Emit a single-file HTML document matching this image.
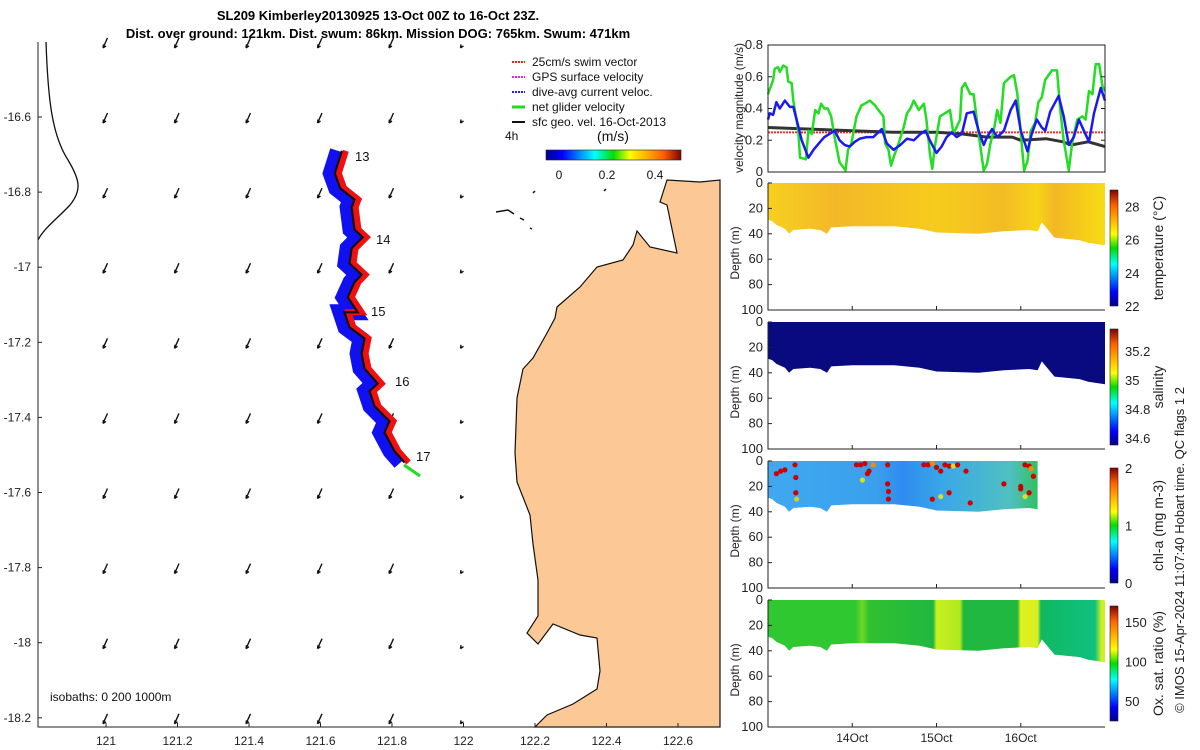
<!DOCTYPE html>
<html><head><meta charset="utf-8">
<style>
body{margin:0;background:#fff;}
svg{display:block;font-family:"Liberation Sans","DejaVu Sans",sans-serif;}
</style></head>
<body>
<svg id="fig" width="1200" height="750" viewBox="0 0 1200 750">
<defs>
<linearGradient id="jetH" x1="0" x2="1" y1="0" y2="0">
<stop offset="0" stop-color="#00008f"/><stop offset="0.12" stop-color="#0000ff"/><stop offset="0.36" stop-color="#00ffff"/><stop offset="0.5" stop-color="#00dd00"/><stop offset="0.62" stop-color="#ffff00"/><stop offset="0.87" stop-color="#ff6000"/><stop offset="1" stop-color="#800000"/>
</linearGradient>
<linearGradient id="jetV" x1="0" x2="0" y1="1" y2="0">
<stop offset="0" stop-color="#00008f"/><stop offset="0.12" stop-color="#0000ff"/><stop offset="0.36" stop-color="#00ffff"/><stop offset="0.5" stop-color="#00dd00"/><stop offset="0.62" stop-color="#ffff00"/><stop offset="0.87" stop-color="#ff6000"/><stop offset="1" stop-color="#800000"/>
</linearGradient>
</defs>
<text x="378" y="20" text-anchor="middle" font-size="13" font-weight="bold">SL209 Kimberley20130925 13-Oct 00Z to 16-Oct 23Z.</text>
<text x="378" y="38" text-anchor="middle" font-size="13" font-weight="bold">Dist. over ground: 121km. Dist. swum: 86km. Mission DOG: 765km. Swum: 471km</text>
<g id="map"></g>
<g id="right"></g>
<text transform="translate(1184,550) rotate(-90)" text-anchor="middle" font-size="13" fill="#222">© IMOS 15-Apr-2024 11:07:40 Hobart time. QC flags 1  2</text>
</svg>
<script>
// ---------- data ----------
const greenDays=[0,0.06,0.08,0.12,0.14,0.18,0.22,0.24,0.28,0.30,0.36,0.38,0.45,0.48,0.52,0.56,0.60,0.63,0.67,0.71,0.75,0.79,0.85,0.92,0.95,0.99,1.05,1.11,1.15,1.21,1.27,1.31,1.37,1.39,1.43,1.46,1.49,1.55,1.61,1.65,1.69,1.73,1.79,1.85,1.88,1.92,1.95,1.98,2.04,2.10,2.16,2.20,2.28,2.30,2.34,2.40,2.44,2.50,2.56,2.60,2.64,2.68,2.72,2.76,2.80,2.88,2.92,2.96,3.00,3.04,3.08,3.12,3.17,3.21,3.25,3.29,3.37,3.43,3.47,3.51,3.57,3.61,3.67,3.73,3.77,3.81,3.85,3.89,3.93,3.97,4.0];
const greenVals=[0.49,0.58,0.65,0.66,0.63,0.67,0.66,0.57,0.56,0.45,0.26,0.09,0.08,0.26,0.24,0.39,0.37,0.43,0.40,0.40,0.35,0.22,0.06,0.01,0.14,0.18,0.35,0.42,0.43,0.45,0.42,0.39,0.35,0.18,0.14,0.04,0.09,0.18,0.28,0.37,0.40,0.45,0.39,0.43,0.33,0.12,0.02,0.16,0.35,0.37,0.39,0.24,0.33,0.53,0.56,0.49,0.49,0.24,0.01,0.05,0.18,0.26,0.39,0.31,0.56,0.60,0.61,0.49,0.24,0.01,0.07,0.26,0.31,0.44,0.47,0.58,0.64,0.64,0.39,0.20,0.01,0.18,0.33,0.35,0.33,0.51,0.49,0.68,0.68,0.54,0.51];
const blueDays=[0,0.02,0.06,0.10,0.14,0.20,0.26,0.30,0.34,0.40,0.48,0.54,0.62,0.67,0.73,0.79,0.85,0.91,0.97,1.03,1.09,1.17,1.25,1.29,1.35,1.41,1.49,1.57,1.65,1.73,1.81,1.87,1.92,2.00,2.06,2.12,2.18,2.24,2.30,2.36,2.44,2.50,2.56,2.60,2.66,2.72,2.80,2.88,2.94,3.00,3.08,3.13,3.19,3.25,3.29,3.35,3.45,3.51,3.57,3.63,3.69,3.75,3.81,3.87,3.95,4.0];
const blueVals=[0.33,0.37,0.36,0.44,0.40,0.45,0.41,0.41,0.33,0.20,0.09,0.14,0.19,0.22,0.24,0.26,0.20,0.17,0.16,0.19,0.21,0.22,0.22,0.24,0.27,0.18,0.14,0.17,0.21,0.20,0.24,0.26,0.20,0.12,0.16,0.22,0.25,0.22,0.24,0.37,0.38,0.26,0.17,0.22,0.27,0.22,0.26,0.39,0.45,0.26,0.13,0.24,0.33,0.28,0.26,0.38,0.48,0.35,0.17,0.22,0.33,0.26,0.19,0.37,0.53,0.45];
const blackDays=[0,0.5,1.0,1.5,2.0,2.3,2.6,2.9,3.0,3.3,3.5,3.6,3.8,4.0];
const blackVals=[0.28,0.27,0.26,0.25,0.25,0.24,0.22,0.22,0.20,0.21,0.19,0.17,0.19,0.16];
const swimSpeed=0.25;
const bottomDays=[0,0.05,0.1,0.2,0.25,0.3,0.5,0.62,0.7,0.75,1.0,1.5,1.8,2.0,2.5,2.8,3.1,3.2,3.25,3.4,3.7,3.8,4.0];
const bottomDepth=[29,30,33,36,40,37,36,37,40,35,34,34,36,39,40,38,37,38,31,43,45,47,49];
const velTicks=[0,0.2,0.4,0.6,0.8];
const depthTicks=[0,20,40,60,80,100];
const dateTicks=[1,2,3];
const dateLabels=["14Oct","15Oct","16Oct"];
const latTicks=[-16.6,-16.8,-17,-17.2,-17.4,-17.6,-17.8,-18,-18.2];
const lonTicks=[121,121.2,121.4,121.6,121.8,122,122.2,122.4,122.6];
// ---------- helpers ----------
const NS="http://www.w3.org/2000/svg";
function mk(tag,attrs,parent){const e=document.createElementNS(NS,tag);for(const k in attrs)e.setAttribute(k,attrs[k]);parent.appendChild(e);return e;}
const R=document.getElementById('right');
const M=document.getElementById('map');
const X0=768,X1=1105;
const tx=d=>X0+(X1-X0)*d/4;
// ---------- velocity panel ----------
const VT=45,VB=172;
const vy=v=>VB-(VB-VT)*v/0.8;
function line(days,vals,fy,stroke,w,name,dash){
  const p=days.map((d,i)=>(i?'L':'M')+tx(d).toFixed(1)+','+fy(vals[i]).toFixed(1)).join('');
  const e=mk('path',{d:p,fill:'none',stroke:stroke,'stroke-width':w,'stroke-linejoin':'round'},R);
  if(dash)e.setAttribute('stroke-dasharray',dash);
  
  
  return e;
}
const sw=mk('line',{x1:X0,x2:X1,y1:vy(swimSpeed),y2:vy(swimSpeed),stroke:'#f03030','stroke-width':2,'stroke-dasharray':'2,1'},R);


line(blackDays,blackVals,vy,'#333',3,'geostrophic-velocity-line');
line(greenDays,greenVals,vy,'#22dd22',2.5,'net-glider-velocity-line');
line(blueDays,blueVals,vy,'#1a1aee',2.5,'dive-avg-current-line');
const vf=mk('rect',{x:X0,y:VT,width:X1-X0,height:VB-VT,fill:'none',stroke:'#222','stroke-width':1},R);


velTicks.forEach(v=>{
  const t=mk('text',{x:X0-5,y:vy(v)+4,'text-anchor':'end','font-size':13,fill:'#222'},R);t.textContent=v;
  
  
  mk('line',{x1:X0,x2:X0+4,y1:vy(v),y2:vy(v),stroke:'#222'},R);
  mk('line',{x1:X1,x2:X1-4,y1:vy(v),y2:vy(v),stroke:'#222'},R);
});
const vl=mk('text',{transform:'translate(743,108) rotate(-90)','text-anchor':'middle','font-size':12,fill:'#222'},R);
vl.textContent='velocity magnitude (m/s)';


// ---------- depth sections ----------
const panels=[
 {top:183,name:'temperature',label:'temperature (°C)',cb:[190,306],cbTicks:[28,26,24,22],cbMin:22,cbMax:29},
 {top:322,name:'salinity',label:'salinity',cb:[329,445],cbTicks:[35.2,35,34.8,34.6],cbMin:34.55,cbMax:35.35},
 {top:461,name:'chl-a',label:'chl-a (mg m-3)',cb:[468,583],cbTicks:[2,1,0],cbMin:0,cbMax:2},
 {top:600,name:'oxygen',label:'Ox. sat. ratio (%)',cb:[606,721],cbTicks:[150,100,50],cbMin:25,cbMax:170}
];
const PH=127;
panels.forEach((p,pi)=>{
  const dy=d=>p.top+PH*d/100;
  const endDay=pi===2?3.2:4;
  const bd=[],bv=[];
  bottomDays.forEach((d,i)=>{if(d<=endDay){bd.push(d);bv.push(bottomDepth[i]);}});
  let path='M'+tx(0)+','+dy(0)+' L'+tx(endDay)+','+dy(0);
  for(let i=bd.length-1;i>=0;i--)path+=' L'+tx(bd[i]).toFixed(1)+','+dy(bv[i]).toFixed(1);
  path+='Z';
  const gid='g'+pi;
  const g=mk('linearGradient',{id:gid,x1:0,x2:1,y1:0,y2:0},document.querySelector('defs'));
  let stops;
  if(pi===0)stops=[[0,'#f6d020'],[0.2,'#f3b828'],[0.5,'#f6cc1c'],[0.7,'#f3bc24'],[0.8,'#f7d418'],[0.85,'#f2b824'],[1,'#f7dc14']];
  else if(pi===1)stops=[[0,'#0a0a80'],[1,'#0a0a80']];
  else if(pi===2)stops=[[0,'#40a8f0'],[0.4,'#3aa0ee'],[0.5,'#2f8cf0'],[0.65,'#3aa8e8'],[0.9,'#50c0c0'],[1,'#30c060']];
  else stops=[[0,'#30c830'],[0.26,'#30c830'],[0.28,'#70d828'],[0.3,'#30c030'],[0.49,'#20b840'],[0.5,'#c8f020'],[0.57,'#b0e820'],[0.58,'#20b840'],[0.74,'#20b840'],[0.75,'#e0f020'],[0.8,'#d8f020'],[0.81,'#10b860'],[0.97,'#10c080'],[0.99,'#d0f020'],[1,'#d0f020']];
  stops.forEach(s=>mk('stop',{offset:s[0],'stop-color':s[1]},g));
  const f=mk('path',{d:path,fill:'url(#'+gid+')'},R);
  
  
  const fr=mk('path',{d:'M'+X0+','+p.top+' L'+X0+','+(p.top+PH)+' L'+X1+','+(p.top+PH),fill:'none',stroke:'#222'},R);
  
  
  depthTicks.forEach(d=>{
    const t=mk('text',{x:X0-5,y:dy(d)+4,'text-anchor':'end','font-size':13,fill:'#222'},R);t.textContent=d;
    
    
    mk('line',{x1:X0,x2:X0+4,y1:dy(d),y2:dy(d),stroke:'#222'},R);
  });
  dateTicks.forEach(d=>mk('line',{x1:tx(d),x2:tx(d),y1:p.top+PH,y2:p.top+PH-4,stroke:'#222'},R));
  const yl=mk('text',{transform:'translate(739,'+(p.top+70)+') rotate(-90)','text-anchor':'middle','font-size':12,fill:'#222'},R);
  yl.textContent='Depth (m)';
  
  
  const cb=mk('rect',{x:1110,y:p.cb[0],width:8,height:p.cb[1]-p.cb[0],fill:'url(#jetV)',stroke:'#222','stroke-width':0.6},R);
  
  
  p.cbTicks.forEach(v=>{
    const y=p.cb[1]-(p.cb[1]-p.cb[0])*(v-p.cbMin)/(p.cbMax-p.cbMin);
    const t=mk('text',{x:1125,y:y+5,'font-size':13,fill:'#222'},R);t.textContent=v;
    
    
  });
  const cl=mk('text',{transform:'translate(1163,'+((p.cb[0]+p.cb[1])/2)+') rotate(-90)','text-anchor':'middle','font-size':14,fill:'#222'},R);
  cl.textContent=p.label;
  
  
});
// chl dots
const chlDotDays=[0.1,0.15,0.2,0.32,0.33,0.33,0.34,1.05,1.1,1.15,1.2,1.25,1.12,1.18,1.42,1.42,1.43,1.43,1.85,1.9,1.95,2.0,2.05,2.1,2.15,2.2,2.25,1.95,2.05,2.15,2.35,2.4,2.8,3.0,3.05,3.1,3.12,3.15,3.1,3.05,3.0];
const chlDotDepth=[10,8,7,3,13,25,30,3,3,2,8,3,15,10,3,18,24,30,3,3,2,5,8,3,4,4,3,30,28,25,8,33,18,20,3,4,6,12,25,28,22];
const chlDotColor=['#c00','#c00','#c00','#c00','#c00','#c00','#cc3','#c00','#c00','#c00','#c00','#f80','#dd2','#c00','#c00','#c00','#c00','#c00','#c00','#c00','#f80','#c00','#c00','#c00','#c00','#dd2','#c00','#c00','#dd2','#c00','#c00','#c00','#c00','#c00','#c00','#c00','#f80','#c00','#c00','#dd2','#c00'];
chlDotDays.forEach((d,i)=>{
  const c=mk('circle',{cx:tx(d),cy:461+PH*chlDotDepth[i]/100,r:2.6,fill:chlDotColor[i]},R);
  
  
});
dateTicks.forEach((d,i)=>{
  const t=mk('text',{x:tx(d),y:742,'text-anchor':'middle','font-size':12,fill:'#222'},R);t.textContent=dateLabels[i];
  
  
});
// ---------- map ----------
const mx=lon=>106+(lon-121)/0.2*71.5;
const my=lat=>117+(-16.6-lat)/0.2*75.1;
const coast=[[667,180],[660,202],[667,205],[677,253],[650,247],[637,231],[633,245],[623,260],[597,267],[580,287],[557,307],[555,318],[547,333],[533,358],[523,369],[517,398],[515,453],[517,482],[530,515],[533,544],[538,580],[538,616],[527,633],[538,644],[553,624],[580,635],[597,638],[600,671],[597,689],[573,704],[547,715],[535,727],[720,727],[720,180],[700,182]];
const land=mk('path',{d:'M'+coast.map(p=>p.join(',')).join(' L')+'Z',fill:'#fcc896',stroke:'#111','stroke-width':1.2},M);


const isl=mk('path',{d:'M496,212 L508,210 L514,214 M520,218 L524,220 M530,228 L532,229 M533,193 L535,191 M604,191 L606,189',fill:'none',stroke:'#111','stroke-width':1.5},M);


// current arrows grid
const arrowLons=[121,121.2,121.4,121.6,121.8,122];
const arrowLats=[-16.4,-16.6,-16.8,-17,-17.2,-17.4,-17.6,-17.8,-18,-18.2];
arrowLats.forEach(la=>arrowLons.forEach(lo=>{
  const x=mx(lo)-3,y=my(la)+6;
  const small=lo===122;
  const len=small?2:10;
  const a=mk('path',{d:'M'+(x+len*0.45)+','+(y-len)+' L'+x+','+y+' M'+x+','+y+' l0.5,-3.5 M'+x+','+y+' l3,-2',stroke:'#111','stroke-width':1.4,fill:'none'},M);
  
  
}));
// depth profile curve
const prof=mk('path',{d:'M46,42 C48,100 52,135 68,160 C80,180 82,190 70,205 C58,218 44,228 38,240',fill:'none',stroke:'#111','stroke-width':1.3},M);


// glider track
const trackLon=[121.66,121.64,121.655,121.695,121.687,121.695,121.718,121.687,121.681,121.715,121.695,121.676,121.704,121.667,121.681,121.723,121.715,121.723,121.760,121.737,121.751,121.793,121.779,121.807,121.835];
const trackLat=[-16.69,-16.75,-16.79,-16.82,-16.84,-16.90,-16.92,-16.95,-16.99,-17.02,-17.04,-17.08,-17.12,-17.12,-17.16,-17.19,-17.23,-17.27,-17.31,-17.33,-17.37,-17.41,-17.44,-17.49,-17.52];
const tp=trackLon.map((l,i)=>[mx(l),my(trackLat[i])]);
const pth=(dx)=>'M'+tp.map(p=>(p[0]+dx).toFixed(1)+','+p[1].toFixed(1)).join(' L');
const tb=mk('path',{d:pth(-4),fill:'none',stroke:'#1010f0','stroke-width':16,'stroke-linejoin':'miter'},M);


const tr=mk('path',{d:pth(4),fill:'none',stroke:'#f01010','stroke-width':6},M);


const tk=mk('path',{d:pth(0),fill:'none',stroke:'#111','stroke-width':2.2},M);


const ga=mk('path',{d:'M404,465 L420,476',stroke:'#22dd22','stroke-width':3},M);


[['13',355,161],['14',376,244],['15',371,316],['16',395,386],['17',416,461]].forEach(d=>{
  const t=mk('text',{x:d[1],y:d[2],'font-size':13,fill:'#111'},M);t.textContent=d[0];
  
  
});
// axes
const ax=mk('path',{d:'M38,42 L38,727 L720,727',fill:'none',stroke:'#222'},M);


latTicks.forEach(la=>{
  const t=mk('text',{x:31,y:my(la)+4,'text-anchor':'end','font-size':12,fill:'#222'},M);t.textContent=la;
  
  
  mk('line',{x1:38,x2:42,y1:my(la),y2:my(la),stroke:'#222'},M);
});
lonTicks.forEach(lo=>{
  const t=mk('text',{x:mx(lo),y:745,'text-anchor':'middle','font-size':12,fill:'#222'},M);t.textContent=lo;
  
  
  mk('line',{x1:mx(lo),x2:mx(lo),y1:727,y2:723,stroke:'#222'},M);
});
const iso=mk('text',{x:50,y:701,'font-size':12,fill:'#111'},M);iso.textContent='isobaths: 0   200  1000m';


// legend
const leg=[['25cm/s swim vector','#f02020'],['GPS surface velocity','#f020f0'],['dive-avg current veloc.','#2020f0'],['net glider velocity','#20dd20'],['sfc geo. vel. 16-Oct-2013','#111']];
leg.forEach((l,i)=>{
  const y=62+i*15;
  mk('line',{x1:512,x2:525,y1:y,y2:y,stroke:l[1],'stroke-width':i===3?3:2,'stroke-dasharray':i<3?'2,1':''},M);
  const t=mk('text',{x:532,y:y+4,'font-size':12,fill:'#111'},M);t.textContent=l[0];
  
  
});
const h4=mk('text',{x:505,y:140,'font-size':12,fill:'#111'},M);h4.textContent='4h';


const ms=mk('text',{x:613,y:141,'text-anchor':'middle','font-size':14,fill:'#111'},M);ms.textContent='(m/s)';


const scb=mk('rect',{x:546,y:150,width:135,height:10,fill:'url(#jetH)',stroke:'#222','stroke-width':0.6},M);


[['0',559],['0.2',607],['0.4',655]].forEach(d=>{
  const t=mk('text',{x:d[1],y:179,'text-anchor':'middle','font-size':12,fill:'#111'},M);t.textContent=d[0];
  
  
});
</script>
</body></html>
